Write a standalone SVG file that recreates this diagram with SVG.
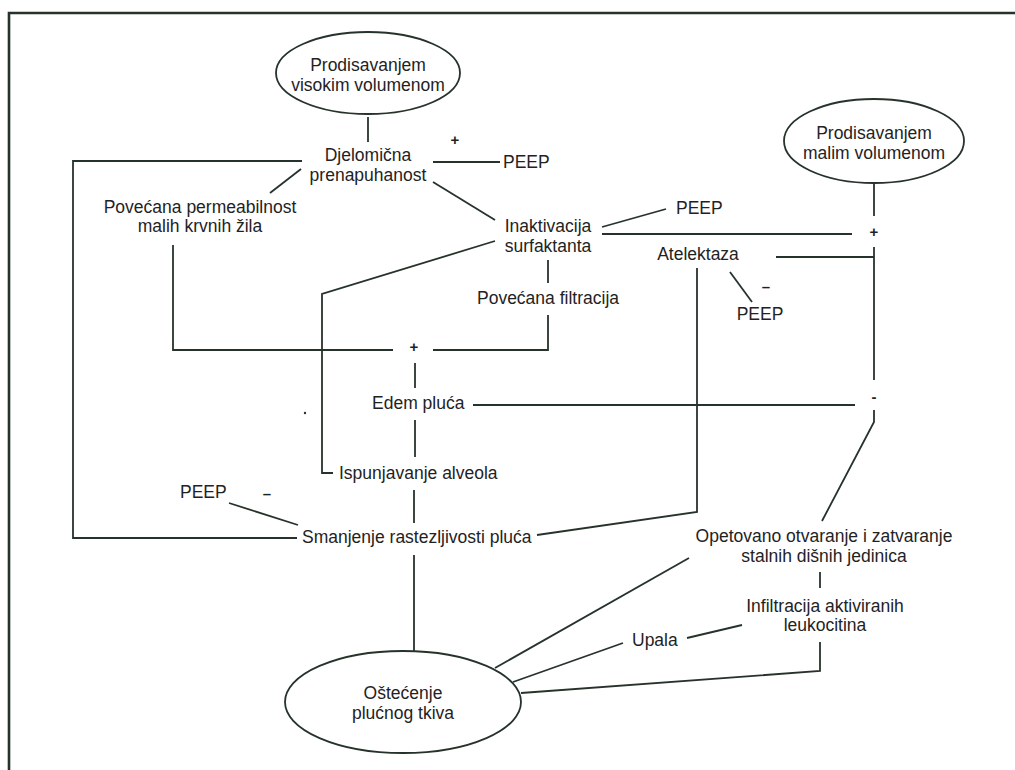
<svg xmlns="http://www.w3.org/2000/svg" width="1015" height="770" viewBox="0 0 1015 770">
<style>
text{font-family:"Liberation Sans",Arial,sans-serif;font-size:17.5px;fill:#1f231f}
.m{text-anchor:middle}
.s{font-size:15px;font-weight:bold}
.ln{fill:none;stroke:#26332a;stroke-width:1.8;stroke-linejoin:miter}
.el{fill:#fff;stroke:#26332a;stroke-width:1.8}
.fr{fill:none;stroke:#26332a;stroke-width:2.6}
</style>
<rect width="1015" height="770" fill="#fff"/>
<path class="fr" d="M9,770 V13 H1015"/>
<g id="connectors">
<path class="ln" d="M368,117 V142"/>
<path class="ln" d="M433,162 H500"/>
<path class="ln" d="M302,161 H73 V538 H297"/>
<path class="ln" d="M301,169 L270,193"/>
<path class="ln" d="M173,245 V350 H393"/>
<path class="ln" d="M433,350 H548 V315"/>
<path class="ln" d="M548,260 V283"/>
<path class="ln" d="M433,182 L495,220"/>
<path class="ln" d="M495,241 L322,294 V473 H333"/>
<path class="ln" d="M602,227 L666,209"/>
<path class="ln" d="M602,234 H852"/>
<path class="ln" d="M874,183 V216"/>
<path class="ln" d="M776,257 H874"/>
<path class="ln" d="M874,247 V380"/>
<path class="ln" d="M730,272 L752,302"/>
<path class="ln" d="M697,268 V512 L537,535"/>
<path class="ln" d="M473,405 H855"/>
<path class="ln" d="M874,410 V422 L822,521"/>
<path class="ln" d="M415,363 V388"/>
<path class="ln" d="M415,420 V457"/>
<path class="ln" d="M414,490 V523"/>
<path class="ln" d="M229,503 L298,525"/>
<path class="ln" d="M414,555 V651"/>
<path class="ln" d="M689,558 L495,668"/>
<path class="ln" d="M820,572 V588"/>
<path class="ln" d="M820,642 V671 L521,693"/>
<path class="ln" d="M687,638 L742,625"/>
<path class="ln" d="M623,643 L513,682"/>
<circle cx="305" cy="413" r="1.2" fill="#26332a"/>
</g>
<g id="n-visoki">
<ellipse class="el" cx="368" cy="73" rx="92" ry="41"/>
<text class="m" x="368" y="71">Prodisavanjem</text>
<text class="m" x="368" y="91">visokim volumenom</text>
</g>
<g id="n-djelomicna">
<text class="m" x="368" y="161">Djelomična</text>
<text class="m" x="368" y="181">prenapuhanost</text>
</g>
<g id="s-plus1"><text class="m s" x="455" y="145">+</text></g>
<g id="n-peep1"><text x="503" y="168">PEEP</text></g>
<g id="n-permeabilnost">
<text class="m" x="200" y="213">Povećana permeabilnost</text>
<text class="m" x="200" y="232">malih krvnih žila</text>
</g>
<g id="n-inaktivacija">
<text class="m" x="548" y="232">Inaktivacija</text>
<text class="m" x="548" y="252">surfaktanta</text>
</g>
<g id="n-peep2"><text x="676" y="214">PEEP</text></g>
<g id="n-mali">
<ellipse class="el" cx="874" cy="141" rx="90" ry="42"/>
<text class="m" x="874" y="139">Prodisavanjem</text>
<text class="m" x="874" y="159">malim volumenom</text>
</g>
<g id="s-plus2"><text class="m s" x="874" y="237">+</text></g>
<g id="n-atelektaza"><text class="m" x="698" y="260">Atelektaza</text></g>
<g id="s-minus1"><text class="m s" x="766" y="292">–</text></g>
<g id="n-peep3"><text class="m" x="760" y="320">PEEP</text></g>
<g id="n-filtracija"><text class="m" x="548" y="304">Povećana filtracija</text></g>
<g id="s-plus3"><text class="m s" x="414" y="352">+</text></g>
<g id="n-edem"><text x="372" y="409">Edem pluća</text></g>
<g id="s-minus2"><text class="m s" x="874" y="402">-</text></g>
<g id="n-ispunjavanje"><text x="339" y="479">Ispunjavanje alveola</text></g>
<g id="n-peep4"><text x="180" y="498">PEEP</text></g>
<g id="s-minus3"><text class="m s" x="267" y="499">–</text></g>
<g id="n-smanjenje"><text x="302" y="543">Smanjenje rastezljivosti pluća</text></g>
<g id="n-opetovano">
<text class="m" x="824" y="542">Opetovano otvaranje i zatvaranje</text>
<text class="m" x="824" y="562">stalnih dišnih jedinica</text>
</g>
<g id="n-infiltracija">
<text class="m" x="825" y="612">Infiltracija aktiviranih</text>
<text class="m" x="825" y="631">leukocitina</text>
</g>
<g id="n-upala"><text x="632" y="646">Upala</text></g>
<g id="n-ostecenje">
<ellipse class="el" cx="403" cy="702" rx="118" ry="51"/>
<text class="m" x="403" y="699">Oštećenje</text>
<text class="m" x="403" y="719">plućnog tkiva</text>
</g>
</svg>
